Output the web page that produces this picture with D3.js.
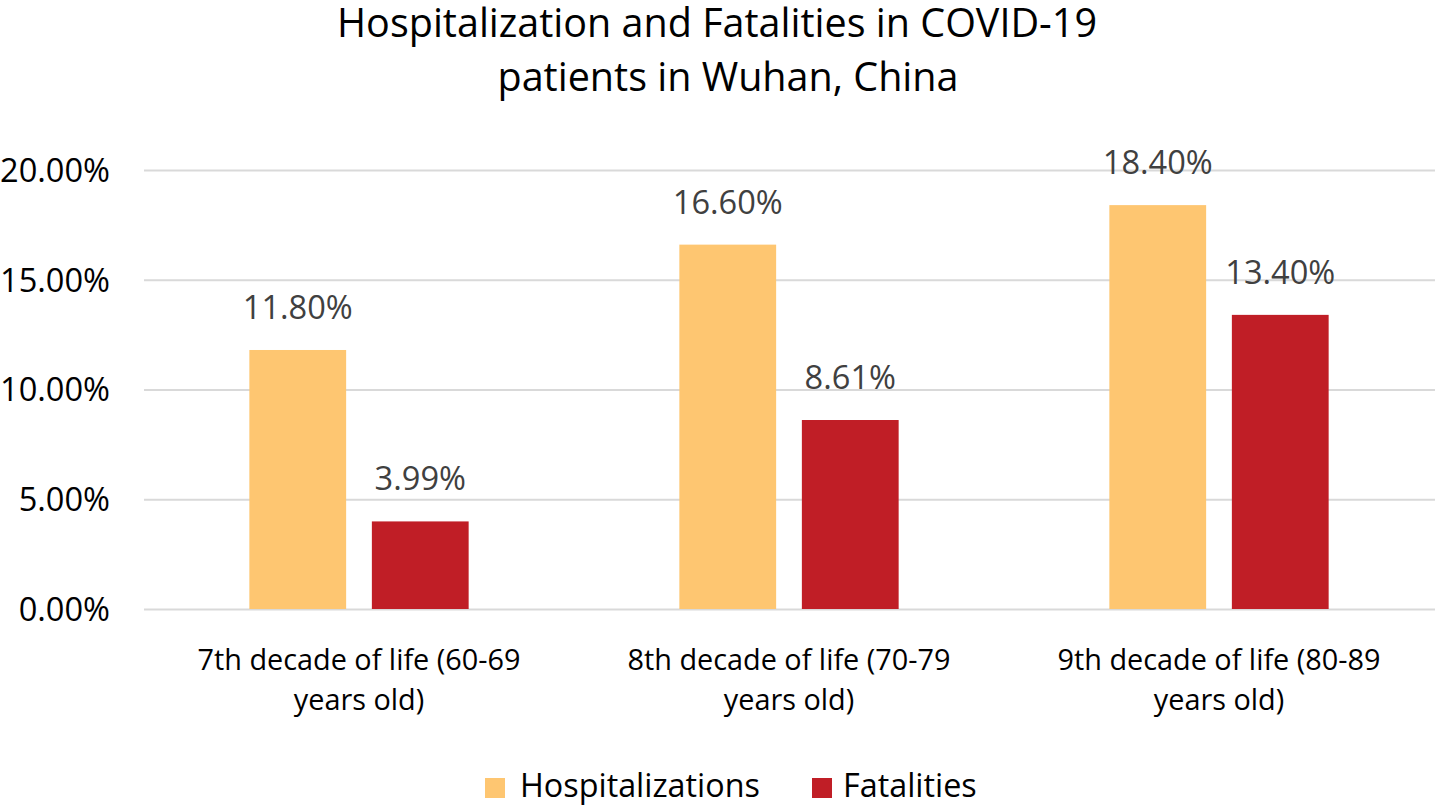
<!DOCTYPE html>
<html><head><meta charset="utf-8">
<script src="https://cdn.jsdelivr.net/npm/d3@7"></script>
<style>body{margin:0;background:#fff}svg{display:block}text{font-family:"Open Sans",sans-serif}</style>
</head><body>
<svg id="c" width="1435" height="805"></svg>
<script>
const categories = [["7th decade of life (60-69","years old)"],["8th decade of life (70-79","years old)"],["9th decade of life (80-89","years old)"]];
const seriesNames = ["Hospitalizations","Fatalities"];
const hospitalizations = [11.80, 16.60, 18.40];
const fatalities = [3.99, 8.61, 13.40];
const yTicks = [0, 5, 10, 15, 20];
const titleLines = ["Hospitalization and Fatalities in COVID-19","patients in Wuhan, China"];
const colors = ["#FEC671","#C01E26"];

(function(){
const svg = d3.select("#c");
const W = 1435;
const pLeft = 144, pRight = 1434, pTop = 170, pBottom = 609;

const catKeys = categories.map((c,i)=>i);
const x0 = d3.scaleBand().domain(catKeys).range([pLeft,pRight]).paddingInner(0.49).paddingOuter(0.245);
const x1 = d3.scaleBand().domain(seriesNames).range([0,x0.bandwidth()]).paddingInner(0.21);
const y = d3.scaleLinear().domain([0,20]).range([pBottom,pTop]);

function fitSize(node, fs, target){
  const n = node.getComputedTextLength();
  return (fs*target/n).toFixed(2);
}

// gridlines + y labels
const yAxis = d3.axisLeft(y).tickValues(yTicks).tickSize(-(W-pLeft)).tickFormat(d=>d.toFixed(2)+"%");
const ga = svg.append("g").attr("transform",`translate(${pLeft},0)`).call(yAxis);
ga.select(".domain").remove();
ga.selectAll(".tick line").attr("stroke","#D9D9D9").attr("stroke-width",2);
const tl = ga.selectAll(".tick text").attr("x",-34).attr("fill","#000").attr("font-size",32)
  .attr("font-family","Open Sans").attr("dy","0.35em");
tl.attr("font-size", fitSize(tl.nodes()[tl.size()-1], 32, 110));

// bars
const data = catKeys.map(i=>({i, vals:[{s:seriesNames[0],v:hospitalizations[i]},{s:seriesNames[1],v:fatalities[i]}]}));
const g = svg.append("g").selectAll("g").data(data).join("g").attr("transform",d=>`translate(${x0(d.i)},0)`);
g.selectAll("rect").data(d=>d.vals).join("rect")
  .attr("x",d=>x1(d.s)).attr("width",x1.bandwidth())
  .attr("y",d=>y(d.v)).attr("height",d=>y(0)-y(d.v))
  .attr("fill",(d,j)=>colors[j]);
const labels = g.selectAll("text").data(d=>d.vals).join("text")
  .attr("x",d=>x1(d.s)+x1.bandwidth()/2).attr("y",d=>y(d.v)-31)
  .attr("text-anchor","middle").attr("fill","#404040").attr("font-size",32)
  .text(d=>d.v.toFixed(2)+"%");
labels.attr("font-size", fitSize(labels.nodes()[0], 32, 110));

// category labels
const cl = svg.append("g").selectAll("text").data(catKeys).join("text")
  .attr("y",670).attr("text-anchor","middle")
  .attr("fill","#000").attr("font-size",28);
cl.append("tspan").attr("x",i=>x0(i)+x0.bandwidth()/2).text(i=>categories[i][0]);
cl.append("tspan").attr("x",i=>x0(i)+x0.bandwidth()/2).attr("dy",40).text(i=>categories[i][1]);
cl.attr("font-size", fitSize(cl.select("tspan").node(), 28, 323));

// title
const tcent = [717, 728], tbase = [37, 91];
const tt = svg.append("g").selectAll("text").data(titleLines).join("text")
  .attr("x",(d,i)=>tcent[i]).attr("y",(d,i)=>tbase[i]).attr("text-anchor","middle")
  .attr("fill","#000").attr("font-size",36).text(d=>d);
tt.attr("font-size", fitSize(tt.nodes()[0], 36, 760));

// legend
const leg = svg.append("g");
const lx = [485, 812], tx = [520, 843];
leg.selectAll("rect").data(seriesNames).join("rect")
  .attr("x",(d,i)=>lx[i]).attr("y",778).attr("width",20).attr("height",20).attr("fill",(d,i)=>colors[i]);
const lt = leg.selectAll("text").data(seriesNames).join("text")
  .attr("x",(d,i)=>tx[i]).attr("y",797).attr("fill","#000").attr("font-size",30).text(d=>d);
lt.attr("font-size", fitSize(lt.nodes()[0], 30, 240));
})();
</script>
</body></html>
